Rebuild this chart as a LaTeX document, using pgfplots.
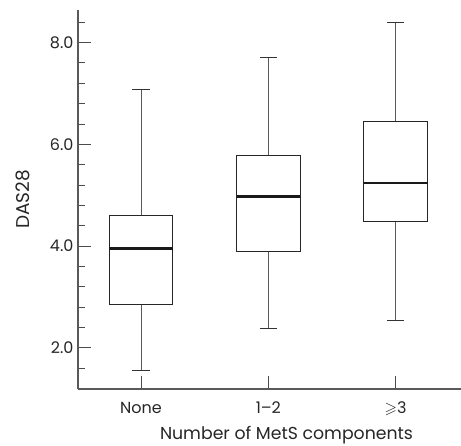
\documentclass[border=0pt]{standalone}
\usepackage{fontspec}
\setmainfont{Poppins}
\usepackage{amssymb}
\usepackage{pgfplots}
\pgfplotsset{compat=1.18}
\begin{document}
\begin{tikzpicture}
\path[use as bounding box] (-78pt,-56pt) rectangle (383pt,389pt);
\begin{axis}[
  at={(0,0)}, anchor=south west,
  scale only axis, width=383pt, height=379pt,
  xmin=-0.495, xmax=2.513, ymin=1.19, ymax=8.64,
  axis x line=bottom, axis y line=left,
  axis line style={-, draw=black!65, line width=1.2pt},
  xtick={0,1,2}, xticklabels={None, 1--2, {$\geqslant$3}},
  ytick={2,4,6,8},
  minor ytick={1.6,2.4,2.8,3.2,3.6,4.4,4.8,5.2,5.6,6.4,6.8,7.2,7.6,8.4},
  tick align=inside,
  major tick length=13pt, minor tick length=7pt,
  tick style={draw=black!70, line width=0.9pt},
  /pgf/number format/assume math mode=true,
  yticklabel style={/pgf/number format/fixed, /pgf/number format/fixed zerofill,
    /pgf/number format/precision=1, xshift=-1pt},
  xticklabel style={anchor=base, yshift=-24pt},
  tick label style={font=\fontsize{16}{18}\selectfont, text=black!85},
  xlabel={Number of MetS components},
  ylabel={DAS28},
  xlabel style={font=\fontsize{17.3}{19}\selectfont, text=black!85,
    at={(axis description cs:0.5,0)}, anchor=base, xshift=17pt, yshift=-50pt},
  ylabel style={font=\fontsize{18.5}{20}\selectfont, text=black!85,
    at={(axis description cs:-0.1436,0.5)}, anchor=center},
  whisk/.style={draw=black!65, line width=0.9pt},
  cap/.style={draw=black!80, line width=0.9pt},
  boxst/.style={draw=black!85, line width=0.9pt, fill=white, line join=miter},
  med/.style={draw=black!90, line width=2.6pt},
]
% None: lw 1.55, lq 2.86, med 3.95, uq 4.60, uw 7.07
\addplot[whisk] coordinates {(0,1.55) (0,2.86)};
\addplot[whisk] coordinates {(0,4.60) (0,7.07)};
\addplot[cap] coordinates {(-0.0675,1.55) (0.0675,1.55)};
\addplot[cap] coordinates {(-0.0675,7.07) (0.0675,7.07)};
\addplot[boxst] coordinates {(-0.25,2.86) (0.25,2.86) (0.25,4.60) (-0.25,4.60)} -- cycle;
\addplot[med] coordinates {(-0.25,3.95) (0.25,3.95)};
% 1-2: lw 2.39, lq 3.90, med 4.97, uq 5.78, uw 7.71
\addplot[whisk] coordinates {(1,2.39) (1,3.90)};
\addplot[whisk] coordinates {(1,5.78) (1,7.71)};
\addplot[cap] coordinates {(0.9325,2.39) (1.0675,2.39)};
\addplot[cap] coordinates {(0.9325,7.71) (1.0675,7.71)};
\addplot[boxst] coordinates {(0.75,3.90) (1.25,3.90) (1.25,5.78) (0.75,5.78)} -- cycle;
\addplot[med] coordinates {(0.75,4.97) (1.25,4.97)};
% >=3: lw 2.54, lq 4.48, med 5.24, uq 6.45, uw 8.39
\addplot[whisk] coordinates {(2,2.54) (2,4.48)};
\addplot[whisk] coordinates {(2,6.45) (2,8.39)};
\addplot[cap] coordinates {(1.9325,2.54) (2.0675,2.54)};
\addplot[cap] coordinates {(1.9325,8.39) (2.0675,8.39)};
\addplot[boxst] coordinates {(1.75,4.48) (2.25,4.48) (2.25,6.45) (1.75,6.45)} -- cycle;
\addplot[med] coordinates {(1.75,5.24) (2.25,5.24)};
\end{axis}
\end{tikzpicture}
\end{document}
